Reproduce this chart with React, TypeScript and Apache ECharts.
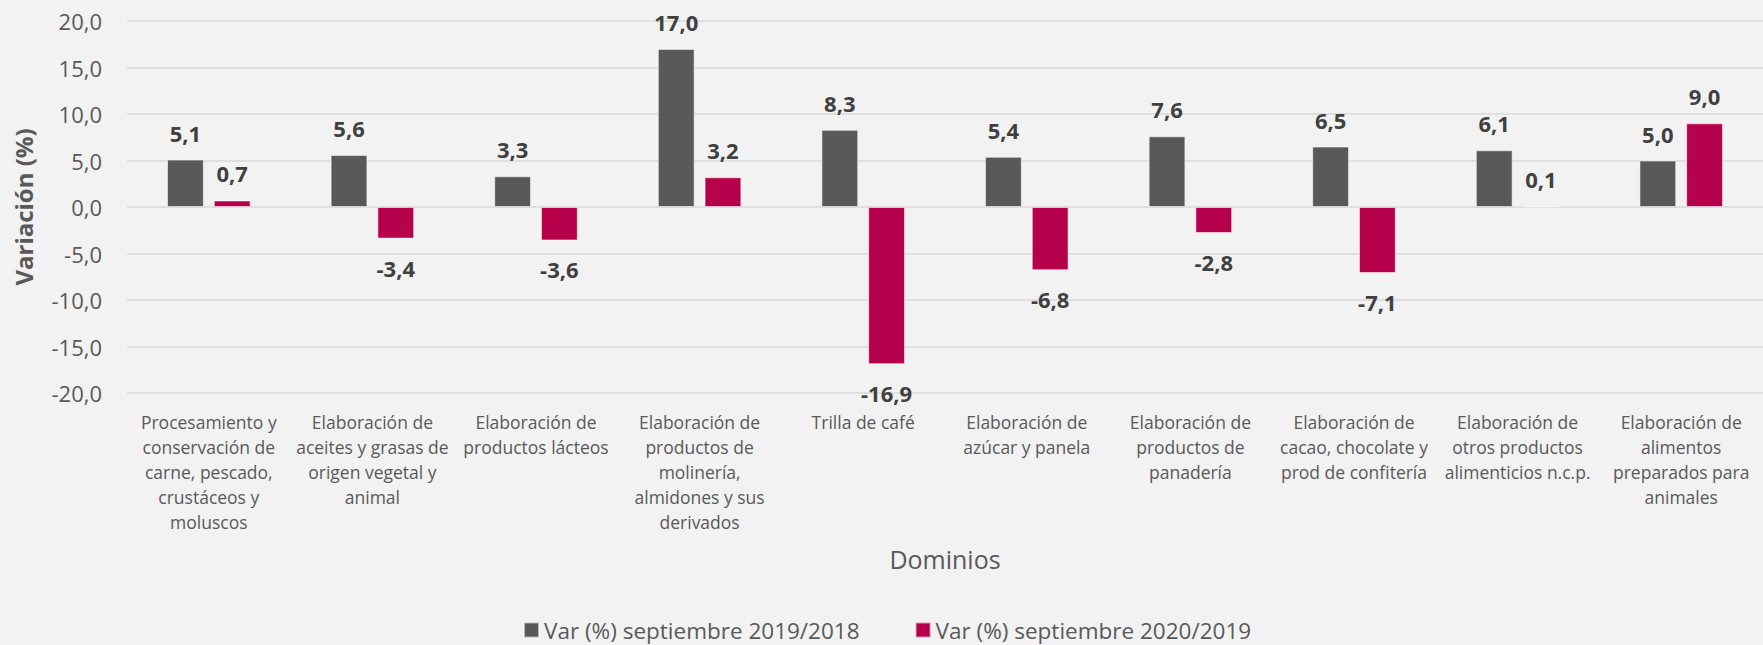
import React, { useEffect, useRef } from "react";
import * as echarts from "echarts";

const categories: string[] = [
  "Procesamiento y\nconservación de\ncarne, pescado,\ncrustáceos y\nmoluscos",
  "Elaboración de\naceites y grasas de\norigen vegetal y\nanimal",
  "Elaboración de\nproductos lácteos",
  "Elaboración de\nproductos de\nmolinería,\nalmidones y sus\nderivados",
  "Trilla de café",
  "Elaboración de\nazúcar y panela",
  "Elaboración de\nproductos de\npanadería",
  "Elaboración de\ncacao, chocolate y\nprod de confitería",
  "Elaboración de\notros productos\nalimenticios n.c.p.",
  "Elaboración de\nalimentos\npreparados para\nanimales",
];

const seriesNames: string[] = [
  "Var (%) septiembre 2019/2018",
  "Var (%) septiembre 2020/2019",
];

const var2019: number[] = [5.1, 5.6, 3.3, 17.0, 8.3, 5.4, 7.6, 6.5, 6.1, 5.0];
const var2020: number[] = [0.7, -3.4, -3.6, 3.2, -16.9, -6.8, -2.8, -7.1, 0.1, 9.0];

const yMin = -20;
const yMax = 20;
const yStep = 5;

const fmt = (v: number) => v.toFixed(1).replace(".", ",");

const FONT = "'Open Sans', 'Noto Sans', sans-serif";

function toItems(values: number[]) {
  return values.map((v) => ({
    value: v,
    label: {
      position: v < 0 ? "bottom" : "top",
      distance: v < 0 ? 18 : 16,
    },
  }));
}

export default function App() {
  const ref = useRef<HTMLDivElement>(null);

  useEffect(() => {
    if (!ref.current) return;
    const chart = echarts.init(ref.current, undefined, { renderer: "svg" });
    const labelStyle = {
      show: true,
      formatter: (p: any) => fmt(p.value),
      fontFamily: FONT,
      fontSize: 22,
      fontWeight: "bold" as const,
      color: "#404040",
    };
    chart.setOption({
      animation: false,
      backgroundColor: "#F2F2F2",
      textStyle: { fontFamily: FONT },
      grid: { left: 127, right: -6, top: 21, bottom: 252, containLabel: false },
      legend: {
        data: seriesNames,
        left: 518,
        top: 613,
        itemWidth: 15,
        itemHeight: 15,
        itemGap: 55,
        icon: "rect",
        textStyle: { fontFamily: FONT, fontSize: 22.5, lineHeight: 24, color: "#595959" },
      },
      xAxis: {
        type: "category",
        data: categories,
        name: "Dominios",
        nameLocation: "middle",
        nameGap: 153,
        nameTextStyle: { fontFamily: FONT, fontSize: 25, color: "#595959", verticalAlign: "top" },
        axisLine: { show: false },
        axisTick: { show: false },
        axisLabel: {
          interval: 0,
          margin: 16,
          fontFamily: FONT,
          fontSize: 17.5,
          lineHeight: 25,
          color: "#595959",
          verticalAlign: "top",
        },
      },
      yAxis: {
        type: "value",
        min: yMin,
        max: yMax,
        interval: yStep,
        name: "Variación (%)",
        nameLocation: "middle",
        nameRotate: 90,
        nameGap: 92,
        nameTextStyle: { fontFamily: FONT, fontSize: 24, fontWeight: "bold", color: "#595959" },
        axisLine: { show: false },
        axisTick: { show: false },
        axisLabel: {
          formatter: (v: number) => fmt(v),
          margin: 25,
          fontFamily: FONT,
          fontSize: 22,
          color: "#595959",
        },
        splitLine: { lineStyle: { color: "#D9D9D9", width: 1.5 } },
      },
      series: [
        {
          name: seriesNames[0],
          type: "bar",
          data: toItems(var2019),
          barWidth: "22.5%",
          barGap: "27%",
          itemStyle: { color: "#595959", borderColor: "rgba(255,255,255,0.55)", borderWidth: 1 },
          label: labelStyle,
        },
        {
          name: seriesNames[1],
          type: "bar",
          data: toItems(var2020),
          barWidth: "22.5%",
          barGap: "27%",
          itemStyle: { color: "#B7004B", borderColor: "rgba(255,255,255,0.55)", borderWidth: 1 },
          label: labelStyle,
        },
      ],
    });
    return () => chart.dispose();
  }, []);

  return (
    <div
      ref={ref}
      style={{ position: "fixed", left: 0, top: 0, width: 1763, height: 645 }}
    />
  );
}
